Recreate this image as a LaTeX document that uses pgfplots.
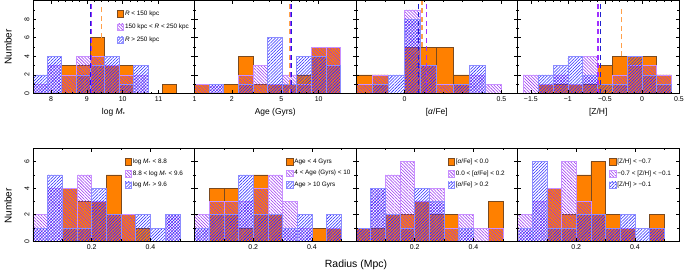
\documentclass[border=0pt]{standalone}
\usepackage{fontspec}
\setmainfont{Liberation Sans}
\usepackage{pgfplots}
\pgfplotsset{compat=1.18}
\usetikzlibrary{patterns.meta}
\definecolor{orF}{HTML}{FF8000}
\definecolor{orE}{HTML}{7A4A20}
\definecolor{puL}{HTML}{9A30F0}
\definecolor{puE}{HTML}{C890FF}
\definecolor{blL}{HTML}{2828FF}
\definecolor{blE}{HTML}{8C8CFF}
\definecolor{orD}{HTML}{FFA04A}
\definecolor{puD}{HTML}{A030FF}
\definecolor{blD}{HTML}{2020D0}
\pgfplotsset{
  sqleg/.style={legend image code/.code={\draw[##1] (0pt,-3.3pt) rectangle (6.6pt,3.3pt);}},
  ob/.style={ybar, bar shift=0pt, fill=orF, draw=orE, line width=0.6pt, sqleg},
  pb/.style={ybar, bar shift=0pt, draw=puE, line width=0.6pt, pattern={Lines[angle=-45,distance=2.2pt,line width=0.55pt]}, pattern color=puL, sqleg},
  bb/.style={ybar, bar shift=0pt, draw=blE, line width=0.6pt, pattern={Lines[angle=45,distance=2.2pt,line width=0.55pt]}, pattern color=blL, sqleg},
  orangedash/.style={forget plot, color=orD, solid, line width=1.3pt, dash pattern=on 5pt off 3.5pt},
  purpledash/.style={forget plot, color=puD, solid, line width=1.1pt, dash pattern=on 5pt off 3.5pt},
  bluedash/.style={forget plot, color=blD, solid, line width=1.1pt, dash pattern=on 5pt off 3.5pt},
  panel/.style={scale only axis, width=161.5bp, height=93bp, anchor=north west, axis on top,
    tick align=inside, major tick length=3.5pt, minor tick length=2pt,
    axis line style={line width=0.8pt}, every tick/.style={black, line width=0.6pt},
    /pgf/number format/assume math mode=true,
    tick label style={font=\fontsize{7}{8}\selectfont},
    label style={font=\fontsize{8.5}{10}\selectfont},
    yticklabel style={rotate=90, anchor=south},
    legend cell align=left,
    legend style={draw=none, fill=none, inner sep=0pt, font=\fontsize{6.4}{7}\selectfont, row sep=3.6pt, nodes={inner sep=1pt}},
  },
  toprow/.style={panel, ymin=0, ymax=10, ytick={0,2,4,6,8}, minor ytick={1,3,5,7,9}},
  botrow/.style={panel, ymin=0, ymax=7, ytick={0,2,4,6}, minor ytick={1,3,5}, xmin=0, xmax=0.55, bar width=0.05, xtick={0.2,0.4}, minor xtick={0.1,0.3,0.5}},
  noy/.style={yticklabels={}},
  bleg/.style={legend style={at={(axis description cs:0.567,0.9)}, anchor=north west}},
}
\begin{document}
\begin{tikzpicture}
% ---------------- top row ----------------
\begin{axis}[toprow, at={(33bp,-0.5bp)}, xmin=7.5, xmax=12, bar width=0.4,
  xtick={8,9,10,11}, minor x tick num=4,
  xlabel={log \textit{M}\textsubscript{*}}, ylabel={Number},
  ylabel style={at={(axis description cs:-0.155,0.5)}, anchor=center, font=\fontsize{10}{12}\selectfont},
  legend style={at={(axis description cs:0.518,0.9)}, anchor=north west, row sep=5pt}]
\addplot[ob] coordinates {(8.5,3) (8.9,3) (9.3,6) (9.7,3) (10.1,3) (11.3,1)};
\addlegendentry{\textit{R} < 150 kpc}
\addplot[pb] coordinates {(7.7,1) (8.1,3) (8.5,2) (8.9,4) (9.3,4) (9.7,3) (10.1,2) (10.5,2)};
\addlegendentry{150 kpc < \textit{R} < 250 kpc}
\addplot[bb] coordinates {(7.7,2) (8.1,4) (8.9,2) (9.3,3) (9.7,4) (10.1,1) (10.5,3)};
\addlegendentry{\textit{R} > 250 kpc}
\addplot[orangedash] coordinates {(9.41,6) (9.41,9.3)};
\addplot[purpledash] coordinates {(9.12,0) (9.12,10)};
\addplot[bluedash] coordinates {(9.1,0) (9.1,10)};
\end{axis}

\begin{axis}[toprow, noy, at={(194.5bp,-0.5bp)}, xmin=0, xmax=1.30103, bar width=0.11761,
  xtick={0,0.30103,0.69897,1}, xticklabels={1,2,5,10},
  minor xtick={0.47712,0.60206,0.77815,0.84510,0.90309,0.95424,1.30103},
  xlabel={Age (Gyrs)}]
\addplot[ob] coordinates {(0.0588,1) (0.2940,1) (0.4116,4) (0.5292,1) (0.6469,1) (0.7645,1) (0.8821,2) (0.9997,5) (1.1173,5)};
\addplot[pb] coordinates {(0.0588,1) (0.1764,1) (0.4116,2) (0.5292,3) (0.6469,1) (0.7645,2) (0.8821,1) (0.9997,5) (1.1173,5)};
\addplot[bb] coordinates {(0.1764,1) (0.4116,1) (0.6469,6) (0.7645,1) (0.8821,4) (0.9997,4) (1.1173,3)};
\addplot[orangedash] coordinates {(0.768,0) (0.768,10)};
\addplot[purpledash] coordinates {(0.775,0) (0.775,10)};
\addplot[bluedash] coordinates {(0.781,0) (0.781,10)};
\end{axis}

\begin{axis}[toprow, noy, at={(356bp,-0.5bp)}, xmin=-0.25, xmax=0.583, bar width=0.08333,
  xtick={0,0.5}, minor xtick={-0.2,-0.1,0.1,0.2,0.3,0.4},
  xlabel={[\textit{α}/Fe]}]
\addplot[ob] coordinates {(-0.2083,2) (-0.125,2) (0.0417,5) (0.125,5) (0.2083,5) (0.2917,2)};
\addplot[pb] coordinates {(-0.2083,1) (-0.125,2) (0.0417,9) (0.125,3) (0.2083,1) (0.2917,1) (0.375,2) (0.4583,1)};
\addplot[bb] coordinates {(-0.125,1) (-0.0417,2) (0.0417,8) (0.125,3) (0.2917,1) (0.375,3)};
\addplot[orangedash] coordinates {(0.09,5) (0.09,10)};
\addplot[purpledash] coordinates {(0.115,0) (0.115,10)};
\addplot[bluedash] coordinates {(0.074,0) (0.074,10)};
\end{axis}

\begin{axis}[toprow, noy, at={(517.5bp,-0.5bp)}, xmin=-1.68, xmax=0.5, bar width=0.2,
  xtick={-1.5,-1,-0.5,0,0.5}, xticklabels={−1.5,−1,−0.5,0,0.5}, minor x tick num=4,
  xlabel={[Z/H]}]
\addplot[ob] coordinates {(-1.3,1) (-1.1,1) (-0.9,1) (-0.7,1) (-0.5,3) (-0.3,4) (-0.1,4) (0.1,4) (0.3,2)};
\addplot[pb] coordinates {(-1.5,2) (-1.3,1) (-1.1,2) (-0.9,1) (-0.7,4) (-0.3,2) (-0.1,3) (0.1,3) (0.3,2)};
\addplot[bb] coordinates {(-1.3,2) (-1.1,3) (-0.9,4) (-0.7,2) (-0.5,1) (-0.3,1) (-0.1,4) (0.1,2) (0.3,1)};
\addplot[orangedash] coordinates {(-0.28,4) (-0.28,9.3)};
\addplot[purpledash] coordinates {(-0.594,0) (-0.594,10)};
\addplot[bluedash] coordinates {(-0.557,0) (-0.557,10)};
\end{axis}

% ---------------- bottom row ----------------
\begin{axis}[botrow, bleg, at={(33bp,-148.3bp)}, ylabel={Number},
  ylabel style={at={(axis description cs:-0.155,0.38)}, anchor=center, font=\fontsize{10}{12}\selectfont}]
\addplot[ob] coordinates {(0.125,4) (0.175,3) (0.225,3) (0.275,5) (0.325,2) (0.375,1)};
\addlegendentry{log \textit{M}\textsubscript{*} < 8.8}
\addplot[pb] coordinates {(0.025,2) (0.075,4) (0.125,4) (0.175,5) (0.225,3) (0.275,2) (0.325,2) (0.475,2)};
\addlegendentry{8.8 < log \textit{M}\textsubscript{*} < 9.6}
\addplot[bb] coordinates {(0.025,1) (0.075,5) (0.125,1) (0.175,1) (0.225,4) (0.275,2) (0.375,2) (0.425,1) (0.475,2)};
\addlegendentry{log \textit{M}\textsubscript{*} > 9.6}
\end{axis}

\begin{axis}[botrow, noy, bleg, at={(194.5bp,-148.3bp)}, xlabel={Radius (Mpc)},
  xlabel style={at={(axis description cs:1,-0.165)}, anchor=north, font=\fontsize{10.5}{12}\selectfont}]
\addplot[ob] coordinates {(0.075,4) (0.125,4) (0.175,1) (0.225,5) (0.275,2) (0.425,1) (0.475,1)};
\addlegendentry{Age < 4 Gyrs}
\addplot[pb] coordinates {(0.025,2) (0.075,3) (0.125,3) (0.175,3) (0.225,4) (0.275,5) (0.325,3) (0.375,1) (0.475,1)};
\addlegendentry{4 < Age (Gyrs) < 10}
\addplot[bb] coordinates {(0.025,1) (0.075,2) (0.125,2) (0.175,5) (0.225,2) (0.275,2) (0.325,1) (0.375,2) (0.475,2)};
\addlegendentry{Age > 10 Gyrs}
\end{axis}

\begin{axis}[botrow, noy, bleg, at={(356bp,-148.3bp)}]
\addplot[ob] coordinates {(0.025,1) (0.075,1) (0.125,2) (0.175,2) (0.225,3) (0.275,2) (0.325,2) (0.475,3)};
\addlegendentry{[\textit{α}/Fe] < 0.0}
\addplot[pb] coordinates {(0.025,1) (0.075,4) (0.125,5) (0.175,6) (0.225,3) (0.275,4) (0.325,1) (0.375,2) (0.425,1) (0.475,1)};
\addlegendentry{0.0 < [\textit{α}/Fe] < 0.2}
\addplot[bb] coordinates {(0.025,1) (0.075,4) (0.125,2) (0.175,1) (0.225,4) (0.275,3) (0.375,1)};
\addlegendentry{[\textit{α}/Fe] > 0.2}
\end{axis}

\begin{axis}[botrow, noy, bleg, at={(517.5bp,-148.3bp)}]
\addplot[ob] coordinates {(0.125,4) (0.175,2) (0.225,5) (0.275,6) (0.325,2) (0.375,1) (0.475,2)};
\addlegendentry{[Z/H] < −0.7}
\addplot[pb] coordinates {(0.025,2) (0.075,3) (0.125,4) (0.175,6) (0.225,3) (0.275,2) (0.325,1) (0.375,1) (0.475,1)};
\addlegendentry{−0.7 < [Z/H] < −0.1}
\addplot[bb] coordinates {(0.025,1) (0.075,6) (0.125,1) (0.175,1) (0.225,2) (0.275,2) (0.325,1) (0.375,2) (0.425,1) (0.475,1)};
\addlegendentry{[Z/H] > −0.1}
\end{axis}

\pgfresetboundingbox
\path (0,0) rectangle (688bp,-270bp);
\end{tikzpicture}
\end{document}
